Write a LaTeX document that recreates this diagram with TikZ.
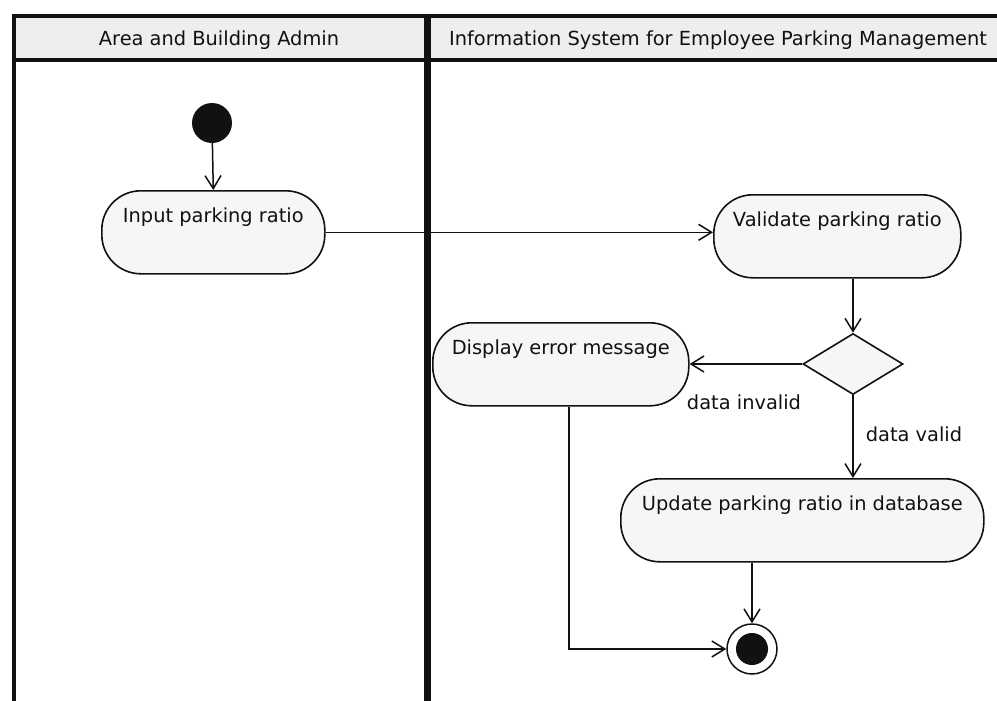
\documentclass[tikz,border=0pt]{standalone}
\usepackage{fontspec}
\setmainfont{DejaVu Sans}
\usetikzlibrary{arrows.meta,shapes.geometric}
\definecolor{hdrfill}{HTML}{EEEEEE}
\definecolor{boxfill}{HTML}{F6F6F6}
\definecolor{ink}{HTML}{111111}
\tikzset{
  lane/.style={draw=ink, line width=3.5pt},
  divider/.style={draw=ink, line width=7pt},
  act/.style={draw=ink, line width=1.6pt, fill=boxfill, rounded corners=39pt,
    rectangle, inner sep=0pt, text height=32pt, text depth=51pt, align=center,
    anchor=north west, text=ink},
  decision/.style={draw=ink, line width=1.6pt, fill=boxfill, diamond, inner sep=0pt,
    aspect=1, minimum width=100pt, minimum height=61pt},
  flow/.style={draw=ink, line width=1.5pt, -{Straight Barb[length=13pt,width=16pt,line width=1.5pt]}},
  lbl/.style={text=ink, inner sep=0pt},
  startnode/.style={circle, fill=ink, minimum size=40pt, inner sep=0pt},
  endouter/.style={circle, draw=ink, line width=1.5pt, fill=white, minimum size=50pt, inner sep=0pt},
}
\begin{document}
\begin{tikzpicture}[x=1pt,y=-1pt,font=\fontsize{19.4}{23}\selectfont]
\useasboundingbox (0,0) rectangle (997,701);
\fill[white] (0,0) rectangle (997,701);
% swimlanes
\fill[hdrfill] (14,16) rectangle (1000,60);
\draw[lane] (14,705) -- (14,16) -- (1000,16);
\draw[lane] (14,60) -- (1000,60);
\draw[divider] (427,16) -- (427,705);
\node[lbl] (h1) at (219,40) {Area and Building Admin};
\node[lbl] (h2) at (718,40) {Information System for Employee Parking Management};
% nodes
\node[startnode] (start) at (212,123) {};
\node[act, minimum width=223pt] (input) at (101,190) {Input parking ratio};
\node[act, minimum width=247pt] (validate) at (713,194) {Validate parking ratio};
\node[decision] (dec) at (853,364) {};
\node[act, minimum width=256pt] (disp) at (432,322) {Display error message};
\node[act, minimum width=363pt] (upd) at (620,478) {Update parking ratio in database};
\node[endouter] (fin) at (752,649) {};
\fill[ink] (fin.center) circle (16pt);
% labels
\node[lbl] (linv) at (744,402) {data invalid};
\node[lbl] (lval) at (914,434) {data valid};
% connectors
\draw[flow] (start) -- (input.north);
\draw[flow] (input.east) -- (input.east -| validate.west);
\draw[flow] (dec.north |- validate.south) -- (dec.north);
\draw[flow] (dec.west) -- (dec.west -| disp.east);
\draw[flow] (dec.south) -- (dec.south |- upd.north);
\draw[flow] (fin.north |- upd.south) -- (fin.north);
\draw[flow] ([xshift=8pt]disp.south) |- (fin.west);
\end{tikzpicture}
\end{document}
